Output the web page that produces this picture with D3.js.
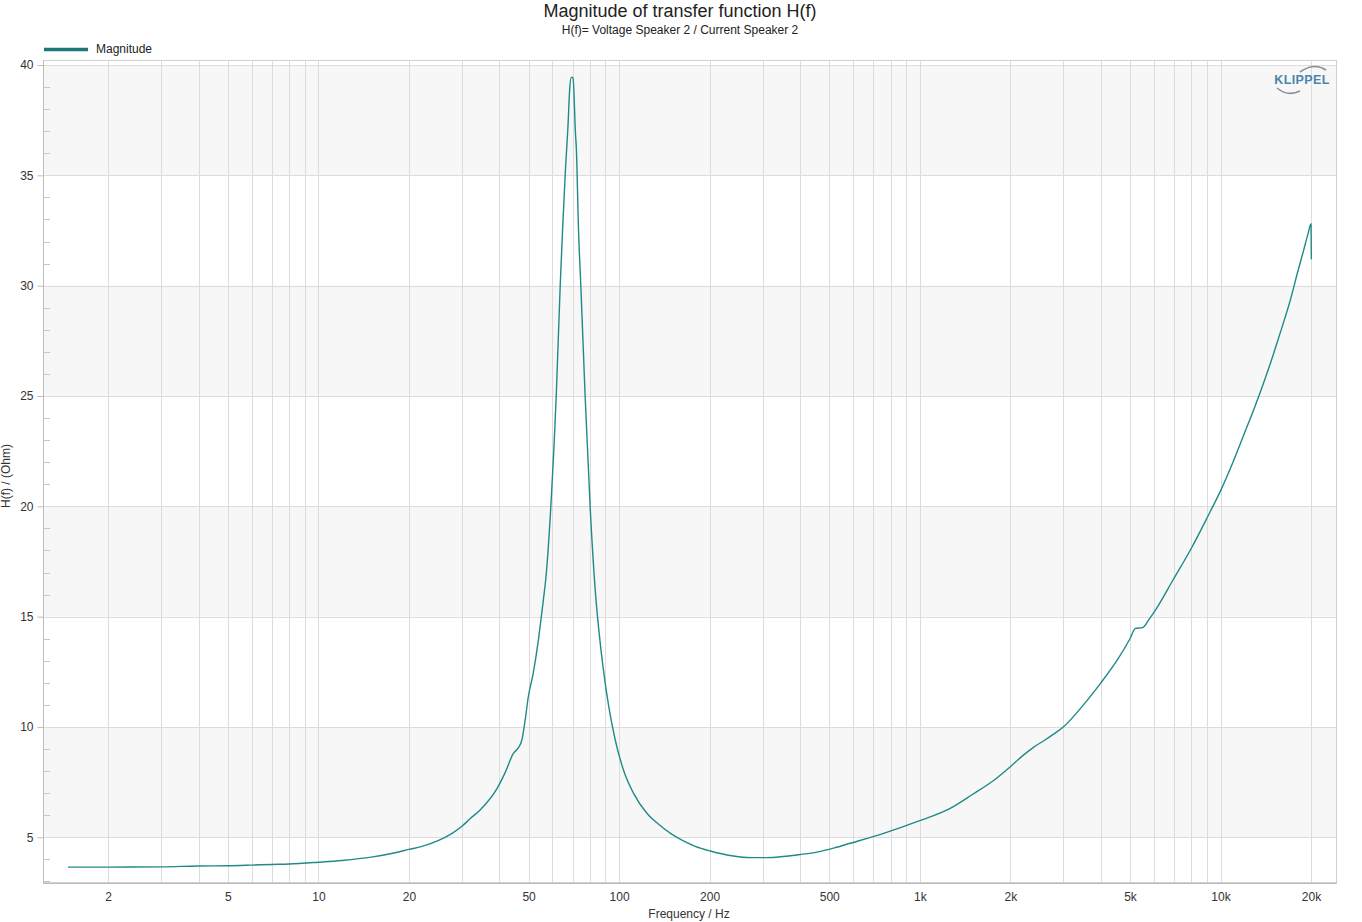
<!DOCTYPE html>
<html><head><meta charset="utf-8">
<script src="https://cdn.jsdelivr.net/npm/d3@7"></script>
<style>body{margin:0;background:#fff;font-family:"Liberation Sans",Arial,sans-serif;}</style>
</head><body><svg id="c" width="1362" height="922"></svg>
<script>
const freq = [1.47,2,3,4,5,6,7,8,10,12,15,18,20,22,25,28,30,32,34.5,39.3,42,44.5,46.2,47.5,48.7,49.9,51.8,53.9,55.3,56.5,57.0,59.3,61.8,63.7,65.0,66.4,67.6,68.5,69.4,70.3,71.6,72.1,73.3,74.6,77.1,80.1,83.3,86.8,89.0,92.4,97.1,103.4,111.6,123.7,135,150,163,180,201,240,273,310,351,400,455,520,587,758,979,1262,1500,1750,2000,2200,2400,2600,2800,3000,3500,4000,4538,5000,5212,5496,5800,6128,6950,8000,9000,10000,11000,12000,13000,14000,15000,16000,17080,18000,18920,19500,20000,20050];
const magnitude = [3.65,3.65,3.66,3.70,3.71,3.74,3.77,3.79,3.87,3.95,4.10,4.30,4.45,4.58,4.85,5.2,5.5,5.85,6.24,7.22,8.00,8.80,9.05,9.41,10.3,11.37,12.43,13.94,15.15,16.2,16.66,20,25,30,32.8,35.4,37.2,38.9,39.45,39.4,36.9,36.2,32.5,30,25,20,16.2,13.64,12.43,10.92,9.41,8.05,7.0,6.09,5.6,5.13,4.85,4.58,4.38,4.15,4.08,4.08,4.13,4.22,4.33,4.52,4.73,5.18,5.71,6.31,6.95,7.55,8.2,8.7,9.1,9.4,9.7,10.0,11.0,12.0,13.04,14.0,14.47,14.5,14.9,15.38,16.66,18.1,19.45,20.7,22.0,23.3,24.5,25.7,26.9,28.1,29.36,30.55,31.63,32.3,32.8,31.2];
const xTickValues = [2,5,10,20,50,100,200,500,1000,2000,5000,10000,20000];
const xTickLabels = ["2","5","10","20","50","100","200","500","1k","2k","5k","10k","20k"];
const yTickValues = [5,10,15,20,25,30,35,40];
const title = "Magnitude of transfer function H(f)";
const subtitle = "H(f)= Voltage Speaker 2 / Current Speaker 2";
const seriesName = "Magnitude";

const L=43,R=1337,T=60,B=883;
const svg=d3.select("#c");
const x=d3.scaleLog().domain([1.214,24400]).range([L,R]);
const y=d3.scaleLinear().domain([2.929,40.227]).range([B,T]);
const col="#1f8a88";

// bands
const bands=[[35,40],[25,30],[15,20],[5,10]];
svg.append("g").selectAll("rect").data(bands).join("rect")
  .attr("x",L).attr("width",R-L).attr("y",d=>y(d[1])).attr("height",d=>y(d[0])-y(d[1])).attr("fill","#f7f7f7");

// vertical grid
const vg=[];
for(let dec=1;dec<=10000;dec*=10){for(let k=1;k<=9;k++){const v=k*dec;if(v>x.domain()[0]&&v<x.domain()[1])vg.push(v);}}
svg.append("g").selectAll("line").data(vg).join("line")
  .attr("x1",d=>Math.round(x(d))+0.5).attr("x2",d=>Math.round(x(d))+0.5).attr("y1",T).attr("y2",B)
  .attr("stroke","#dcdcdc").attr("stroke-width",1);
// horizontal grid
svg.append("g").selectAll("line").data(yTickValues).join("line")
  .attr("x1",L).attr("x2",R).attr("y1",d=>Math.round(y(d))+0.5).attr("y2",d=>Math.round(y(d))+0.5)
  .attr("stroke","#dcdcdc").attr("stroke-width",1);
// minor y ticks inside
const minor=d3.range(3,41).filter(v=>v%5!==0);
svg.append("g").selectAll("line").data(minor).join("line")
  .attr("x1",L).attr("x2",L+7).attr("y1",d=>Math.round(y(d))+0.5).attr("y2",d=>Math.round(y(d))+0.5)
  .attr("stroke","#c8c8c8");
// frame
svg.append("rect").attr("x",L+0.5).attr("y",T+0.5).attr("width",R-L-1).attr("height",B-T-1)
  .attr("fill","none").attr("stroke","#d0d0d0");
svg.append("line").attr("x1",L+0.5).attr("x2",L+0.5).attr("y1",T).attr("y2",B).attr("stroke","#bdbdbd");
svg.append("line").attr("x1",L).attr("x2",R).attr("y1",B+0.5).attr("y2",B+0.5).attr("stroke","#bdbdbd");

// axes
const yAxis=d3.axisLeft(y).tickValues(yTickValues).tickSize(6).tickPadding(4).tickFormat(d3.format("d"));
const gy=svg.append("g").attr("transform",`translate(${L+0.5},0)`).call(yAxis);
gy.select(".domain").remove();
gy.selectAll(".tick line").attr("stroke","#bdbdbd");
gy.selectAll("text").attr("font-size",12).attr("fill","#333").attr("font-family","Liberation Sans, Arial, sans-serif");

const xAxis=d3.axisBottom(x).tickValues(xTickValues).tickSize(0).tickPadding(9).tickFormat((d,i)=>xTickLabels[i]);
const gx=svg.append("g").attr("transform",`translate(0,${B})`).call(xAxis);
gx.select(".domain").remove();
gx.selectAll("text").attr("font-size",12).attr("fill","#333").attr("font-family","Liberation Sans, Arial, sans-serif");

// curve
const data=freq.map((f,i)=>[f,magnitude[i]]);
svg.append("path").datum(data).attr("fill","none").attr("stroke",col).attr("stroke-width",1.4)
  .attr("d",d3.line().x(d=>x(d[0])).y(d=>y(d[1])).curve(d3.curveMonotoneX));

// titles
svg.append("text").attr("x",680).attr("y",17).attr("text-anchor","middle").attr("font-size",18).attr("fill","#222").text(title);
svg.append("text").attr("x",680).attr("y",34).attr("text-anchor","middle").attr("font-size",12).attr("fill","#222").text(subtitle);
svg.append("text").attr("x",689).attr("y",918).attr("text-anchor","middle").attr("font-size",12).attr("fill","#333").text("Frequency / Hz");
svg.append("text").attr("transform","translate(10,476) rotate(-90)").attr("text-anchor","middle").attr("font-size",12).attr("fill","#333").text("H(f) / (Ohm)");

// legend
svg.append("line").attr("x1",44).attr("x2",88).attr("y1",49.5).attr("y2",49.5).attr("stroke","#1b7a78").attr("stroke-width",3.5);
svg.append("text").attr("x",96).attr("y",53).attr("font-size",12).attr("fill","#222").text(seriesName);

// logo
const lg=svg.append("g");
lg.append("text").attr("x",1302).attr("y",84).attr("text-anchor","middle").attr("font-size",12.5).attr("font-weight","bold").attr("fill","#4a86aa").attr("letter-spacing",0.4).text("KLIPPEL");
lg.append("path").attr("d","M1300,72 Q1314,62 1326,70").attr("fill","none").attr("stroke","#8a8f94").attr("stroke-width",1.6);
lg.append("path").attr("d","M1277,88 Q1288,97 1300,91").attr("fill","none").attr("stroke","#8a8f94").attr("stroke-width",1.6);
</script></body></html>
